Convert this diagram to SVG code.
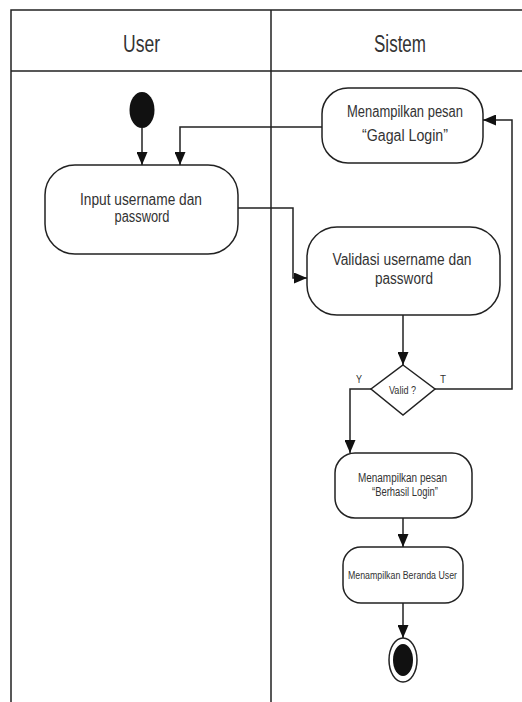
<svg xmlns="http://www.w3.org/2000/svg" width="522" height="702" viewBox="0 0 522 702">
<style>
.lane{fill:none;stroke:#222;stroke-width:1.5}
.node{fill:#fff;stroke:#222;stroke-width:1.5}
.edge{fill:none;stroke:#222;stroke-width:1.5;marker-end:url(#arr)}
text{font-family:"Liberation Sans",Arial,sans-serif;fill:#333;text-anchor:middle}
.h{font-size:23px}
.t{font-size:16px}
.s{font-size:12px}
.xs{font-size:11px}
</style>
<defs>
<marker id="arr" viewBox="0 0 13 11" refX="13" refY="5.5" markerWidth="13" markerHeight="11" markerUnits="userSpaceOnUse" orient="auto">
<path d="M0,0 L13,5.5 L0,11 Z" fill="#111"/>
</marker>
</defs>
<rect width="522" height="702" fill="#fff"/>
<g id="swimlanes">
<path class="lane" d="M11,702 V10 H522 M11,71 H522 M271,10 V702"/>
<text class="h" x="141.5" y="52" textLength="37" lengthAdjust="spacingAndGlyphs">User</text>
<text class="h" x="400" y="52" textLength="52" lengthAdjust="spacingAndGlyphs">Sistem</text>
</g>
<g id="start"><ellipse cx="142" cy="110" rx="12.5" ry="18" fill="#111"/></g>
<g id="input">
<rect class="node" x="45" y="165" width="193" height="89" rx="30"/>
<text class="t" x="141" y="205" textLength="122" lengthAdjust="spacingAndGlyphs">Input username dan</text>
<text class="t" x="142" y="222" textLength="55" lengthAdjust="spacingAndGlyphs">password</text>
</g>
<g id="gagal">
<rect class="node" x="322" y="88" width="161" height="75" rx="26"/>
<text class="t" x="405" y="117" textLength="116" lengthAdjust="spacingAndGlyphs">Menampilkan pesan</text>
<text class="t" x="405" y="141" textLength="86" lengthAdjust="spacingAndGlyphs">“Gagal Login”</text>
</g>
<g id="validasi">
<rect class="node" x="307" y="227" width="193" height="88" rx="30"/>
<text class="t" x="402" y="265" textLength="139" lengthAdjust="spacingAndGlyphs">Validasi username dan</text>
<text class="t" x="404" y="284" textLength="58" lengthAdjust="spacingAndGlyphs">password</text>
</g>
<g id="decision">
<path class="node" d="M403,365 L435,389 L403,415 L371,389 Z"/>
<text class="xs" x="402.5" y="394" textLength="27" lengthAdjust="spacingAndGlyphs">Valid ?</text>
</g>
<g id="berhasil">
<rect class="node" x="335" y="453" width="137" height="65" rx="20"/>
<text class="s" x="402.5" y="482" textLength="89" lengthAdjust="spacingAndGlyphs">Menampilkan pesan</text>
<text class="s" x="405" y="496" textLength="66" lengthAdjust="spacingAndGlyphs">“Berhasil Login”</text>
</g>
<g id="beranda">
<rect class="node" x="343" y="547" width="120" height="56" rx="18"/>
<text class="xs" x="402.5" y="579" textLength="109" lengthAdjust="spacingAndGlyphs">Menampilkan Beranda User</text>
</g>
<g id="end">
<ellipse cx="403" cy="660" rx="14" ry="22" fill="#fff" stroke="#222" stroke-width="1.5"/>
<ellipse cx="403" cy="660" rx="10" ry="16" fill="#111"/>
</g>
<g id="connectors">
<path class="edge" d="M142,128 V165"/>
<path class="edge" d="M322,127 H180 V165"/>
<path class="edge" d="M238,208 H293 V278 H307"/>
<path class="edge" d="M403,315 V365"/>
<path class="edge" d="M435,389 H512 V120 H483"/>
<path class="edge" d="M371,389 H350 V453"/>
<path class="edge" d="M403,518 V547"/>
<path class="edge" d="M403,603 V638"/>
<text class="xs" x="359" y="383" textLength="6" lengthAdjust="spacingAndGlyphs">Y</text>
<text class="xs" x="443" y="383" textLength="6" lengthAdjust="spacingAndGlyphs">T</text>
</g>
</svg>
